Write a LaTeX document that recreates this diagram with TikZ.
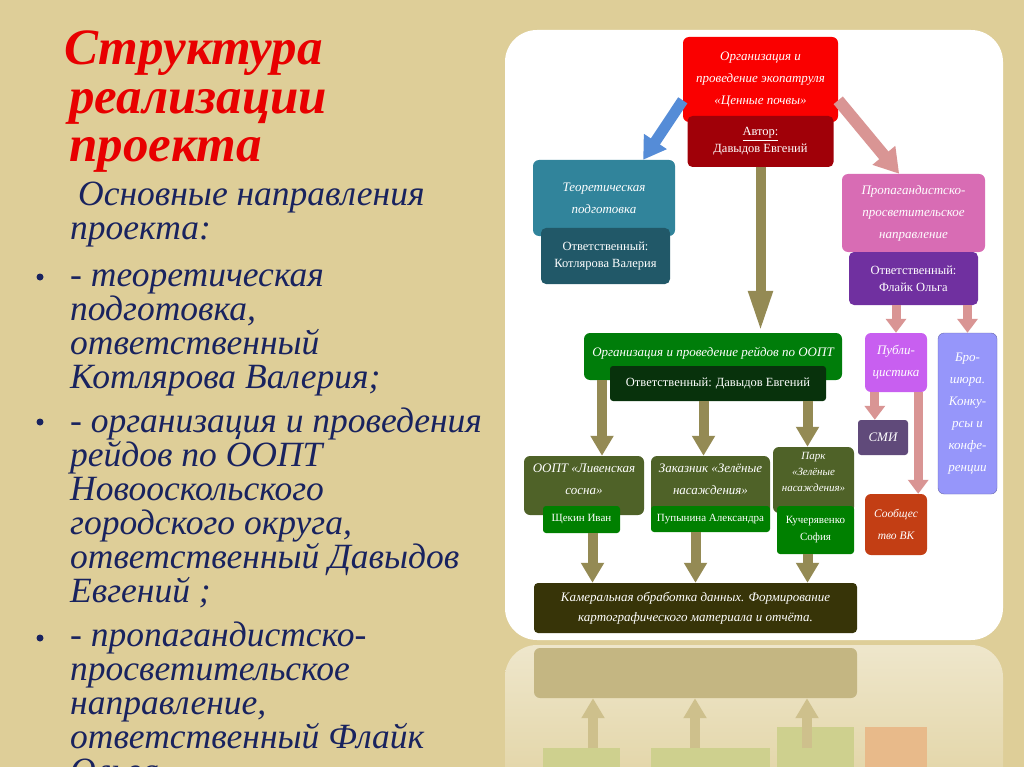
\documentclass[tikz,border=0pt]{standalone}
\usepackage{fontspec}
\setmainfont{Liberation Serif}
\usetikzlibrary{positioning, arrows.meta, calc}

\definecolor{paper}{RGB}{222,206,152}
\definecolor{titlered}{RGB}{232,0,0}
\definecolor{inknavy}{RGB}{25,35,95}
\definecolor{orgred}{RGB}{250,0,0}
\definecolor{authred}{RGB}{160,0,8}
\definecolor{teal}{RGB}{49,132,155}
\definecolor{darkteal}{RGB}{33,88,104}
\definecolor{propink}{RGB}{216,108,180}
\definecolor{purp}{RGB}{112,48,160}
\definecolor{raidgreen}{RGB}{0,125,10}
\definecolor{deepgreen}{RGB}{8,50,12}
\definecolor{publviolet}{RGB}{200,95,240}
\definecolor{lavender}{RGB}{150,150,250}
\definecolor{smiplum}{RGB}{96,74,122}
\definecolor{vkorange}{RGB}{195,62,20}
\definecolor{siteolive}{RGB}{79,98,40}
\definecolor{namegreen}{RGB}{0,128,0}
\definecolor{officebrown}{RGB}{55,52,8}
\definecolor{arrolive}{RGB}{148,138,84}
\definecolor{arrpink}{RGB}{217,149,148}
\definecolor{arrblue}{RGB}{85,140,215}
\definecolor{reflolive}{RGB}{196,182,130}
\definecolor{reflarrow}{RGB}{206,192,140}
\definecolor{reflgreen}{RGB}{206,208,142}
\definecolor{reflorange}{RGB}{232,186,138}

\begin{document}
\begin{tikzpicture}[x=1pt, y=-1pt,
    node distance = 40pt,
    on grid,
    box/.style = {rounded corners=6pt, text=white, align=center,
        inner sep=1pt, font=\itshape\fontsize{13}{22}\selectfont},
    tag/.style = {rounded corners=5pt, text=white, align=center,
        inner sep=1pt, font=\fontsize{12.5}{17}\selectfont},
    nametag/.style = {tag, rounded corners=3pt, fill=namegreen,
        font=\fontsize{11}{17}\selectfont},
    olivearrow/.style = {draw=arrolive, line width=10pt,
        -{Triangle[length=20pt,width=22pt]}},
    pinkarrow/.style = {draw=arrpink, line width=9pt,
        -{Triangle[length=14pt,width=20pt]}},
    bodytext/.style = {anchor=base west, inner sep=0, align=left,
        text=inknavy, font=\itshape\fontsize{35.5}{34}\selectfont}]

    % background and panel
    \useasboundingbox (0,0) rectangle (1024,767);
    \fill[paper] (0,0) rectangle (1024,767);
    \fill[white, rounded corners=32pt] (505,30) rectangle (1003,640);

    % reflection under the panel
    \shade[top color=white!50!paper, bottom color=white!10!paper, rounded corners=32pt]
        (505,645) rectangle (1003,800);
    \node (refloffice) [fill=reflolive, rounded corners=6pt, minimum width=323pt,
        minimum height=50pt] at (695.5,673) {};
    \fill[reflgreen] (543,748) rectangle (620,767);
    \fill[reflgreen] (651,748) rectangle (770,767);
    \fill[reflgreen] (777,727) rectangle (854,767);
    \fill[reflorange] (865,727) rectangle (927,767);
    \foreach \rx in {593,695,807} {
        \coordinate (rfoot) at (\rx,748);
        \draw[draw=reflarrow, line width=10pt, -{Triangle[length=20pt,width=22pt]}]
            (rfoot) -- (rfoot |- refloffice.south);
    }

    % left text (anchored at the baseline of the last line)
    \node (head) [anchor=base west, inner sep=0, align=left, text=titlered,
        font=\bfseries\itshape\fontsize{51}{48.5}\selectfont] at (64,162)
        {Структура\\\hspace{5pt}реализации\\\hspace{5pt}проекта};
    \node (intro) [bodytext] at (70,240)
        {\hspace{8pt}Основные направления\\проекта:};
    \node (item1) [bodytext] at (70,388)
        {- теоретическая\\подготовка,\\ответственный\\Котлярова Валерия;};
    \node (item2) [bodytext] at (70,602)
        {- организация и проведения\\рейдов по ООПТ\\Новооскольского\\городского округа,\\ответственный Давыдов\\Евгений ;};
    \node (item3) [bodytext] at (70,782)
        {- пропагандистско-\\просветительское\\направление,\\ответственный Флайк\\Ольга.};
    \foreach \by [count=\i] in {277,422,638}
        \fill[inknavy] (40,\by) circle (3.5pt) coordinate (bullet\i);

    % top of the tree
    \node (org) [box, fill=orgred, minimum width=155pt, minimum height=85pt]
        at (760.5,79.5) {Организация и\\проведение экопатруля\\«Ценные почвы»};
    \node (author) [tag, fill=authred, minimum width=146pt, minimum height=51pt,
        below = 62pt of org] {\underline{Автор:}\\Давыдов Евгений};

    % theory branch
    \node (theory) [box, fill=teal, minimum width=142pt, minimum height=76pt]
        at (604,198) {Теоретическая\\подготовка};
    \node (theoryresp) [tag, fill=darkteal, minimum width=129pt, minimum height=56pt,
        below = 58pt of theory, xshift=1.5pt] {Ответственный:\\Котлярова Валерия};

    % propaganda branch
    \node (prop) [box, fill=propink, minimum width=143pt, minimum height=78pt]
        at (913.5,213) {Пропагандистско-\\просветительское\\направление};
    \node (propresp) [tag, fill=purp, minimum width=129pt, minimum height=53pt,
        below = 65.5pt of prop] {Ответственный:\\Флайк Ольга};
    \node (publ) [box, fill=publviolet, minimum width=62pt, minimum height=59pt]
        at (896,362.5) {Публи-\\цистика};
    \node (broch) [box, draw=lavender!70!black, fill=lavender, minimum width=59pt,
        minimum height=161pt] at (967.5,413.5) {Бро-\\шюра.\\Конку-\\рсы и\\конфе-\\ренции};
    \node (smi) [box, rounded corners=3pt, fill=smiplum, minimum width=50pt,
        minimum height=35pt, below left = 75pt and 13pt of publ] {СМИ};
    \node (vk) [box, fill=vkorange, minimum width=62pt, minimum height=61pt,
        below = 162pt of publ, font=\itshape\fontsize{11.5}{22}\selectfont]
        {Сообщес\\тво ВК};

    % raids branch
    \node (raids) [box, fill=raidgreen, minimum width=258pt, minimum height=47pt,
        text depth=10pt] at (713,356.5) {Организация и проведение рейдов по ООПТ};
    \node (raidsresp) [tag, rounded corners=3pt, fill=deepgreen, minimum width=216pt,
        minimum height=35pt, below right = 27pt and 5pt of raids]
        {Ответственный: Давыдов Евгений};
    \node (site1) [box, fill=siteolive, minimum width=120pt, minimum height=59pt,
        text depth=12pt] at (584,485.5) {ООПТ «Ливенская\\сосна»};
    \node (site2) [box, fill=siteolive, minimum width=119pt, minimum height=59pt,
        text depth=12pt] at (710.5,485.5) {Заказник «Зелёные\\насаждения»};
    \node (site3) [box, fill=siteolive, minimum width=81pt, minimum height=66pt,
        text depth=16pt, font=\itshape\fontsize{11}{16}\selectfont]
        at (813.5,480) {Парк\\«Зелёные\\насаждения»};
    \node (name1) [nametag, minimum width=77pt, minimum height=27pt,
        below = 34pt of site1, xshift=-2.5pt] {Щекин Иван};
    \node (name2) [nametag, minimum width=119pt, minimum height=26pt,
        below = 33.5pt of site2] {Пупынина Александра};
    \node (name3) [nametag, minimum width=77pt, minimum height=48pt,
        below = 50pt of site3, xshift=2pt] {Кучерявенко\\София};
    \node (office) [box, rounded corners=4pt, fill=officebrown, minimum width=323pt,
        minimum height=50pt, font=\itshape\fontsize{13}{20}\selectfont] at (695.5,608)
        {Камеральная обработка данных. Формирование\\картографического материала и отчёта.};

    % helper points for the arrows
    \coordinate (a1) at ($(site1.north)+(18,0)$);
    \coordinate (a2) at ($(site2.north)+(-7,0)$);
    \coordinate (a3) at ($(site3.north)+(-6,0)$);
    \coordinate (b1) at ($(name1.south)+(11,0)$);
    \coordinate (b2) at ($(name2.south)+(-15,0)$);
    \coordinate (b3) at ($(name3.south)+(-8,0)$);
    \coordinate (p1) at ($(publ.south west)+(10,0)$);
    \coordinate (p2) at ($(publ.south east)+(-9,0)$);

    % arrows
    \draw [draw=arrblue, line width=11pt, -{Triangle[length=22pt,width=26pt]}]
        (org.195) -- ($(theory.north)!0.55!(theory.north east)$);
    \draw [pinkarrow, line width=12pt, -{Triangle[length=24pt,width=28pt]}]
        (org.345) -- ($(prop.north)!0.2!(prop.north west)$);
    \draw [olivearrow, -{Triangle[length=42pt,width=22pt]}]
        (author.south) -- (author.south |- raids.north);
    \draw [olivearrow] (a1 |- raids.south) -- (a1);
    \draw [olivearrow] (a2 |- raidsresp.south) -- (a2);
    \draw [olivearrow] (a3 |- raidsresp.south) -- (a3);
    \draw [olivearrow] (b1) -- (b1 |- office.north);
    \draw [olivearrow] (b2) -- (b2 |- office.north);
    \draw [olivearrow] (b3) -- (b3 |- office.north);
    \draw [pinkarrow] (propresp.south -| publ.north) -- (publ.north);
    \draw [pinkarrow] (propresp.south -| broch.north) -- (broch.north);
    \draw [pinkarrow] (p1) -- (p1 |- smi.north);
    \draw [pinkarrow] (p2) -- (p2 |- vk.north);
\end{tikzpicture}
\end{document}
